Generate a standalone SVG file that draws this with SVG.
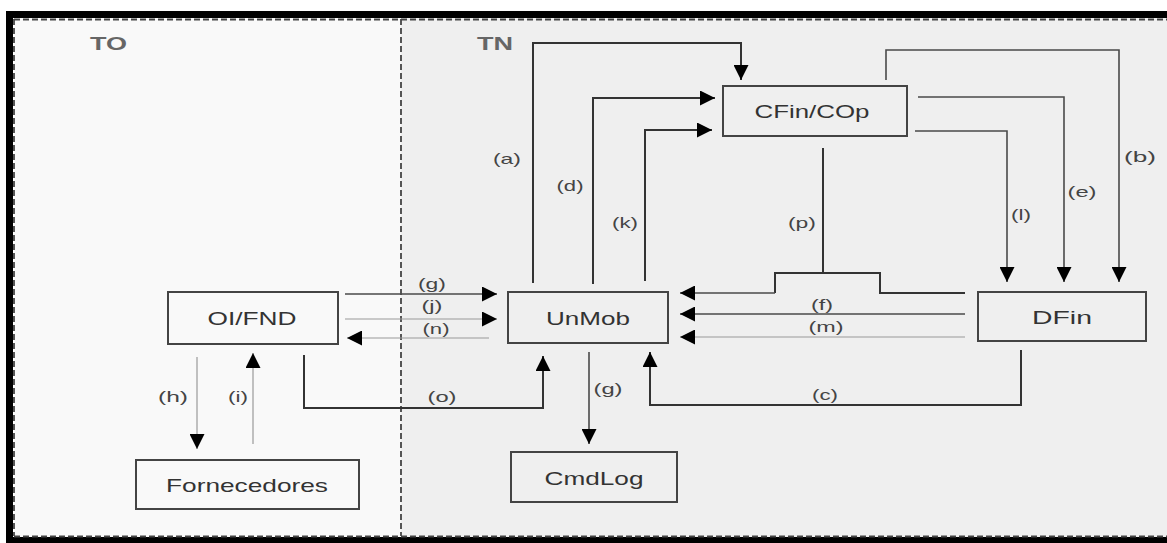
<svg xmlns="http://www.w3.org/2000/svg" width="1167" height="543" viewBox="0 0 1167 543">
  <style>
    .frame { fill: #000; }
    .zone-to { fill: #f9f9f9; }
    .zone-tn { fill: #efefef; }
    .dash { fill: none; stroke: #444; stroke-width: 1.8; stroke-dasharray: 6 3; }
    .zone-label { font-family: "Liberation Sans", Arial, sans-serif; font-weight: bold; font-size: 18px; fill: #666; }
    .box { fill: none; stroke: #444; stroke-width: 2; }
    .name { font-family: "Liberation Sans", Arial, sans-serif; font-size: 19px; fill: #333; text-anchor: middle; }
    .lbl { font-family: "Liberation Sans", Arial, sans-serif; font-size: 15px; fill: #444; text-anchor: middle; }
    .thick { fill: none; stroke: #333; stroke-width: 2; }
    .mid { fill: none; stroke: #4a4a4a; stroke-width: 1.6; }
    .thin { fill: none; stroke: #999; stroke-width: 1.2; }
  </style>
  <defs>
    <marker id="arrow" markerUnits="userSpaceOnUse" markerWidth="16" markerHeight="15" viewBox="0 0 16 15" refX="15" refY="7.5" orient="auto">
      <path d="M0,0 L15,7.5 L0,15 z" fill="#000"/>
    </marker>
  </defs>

  <!-- zones -->
  <g id="zones">
    <rect class="zone-to" x="14" y="18" width="387" height="519"/>
    <rect class="zone-tn" x="401" y="18" width="766" height="519"/>
    <path class="frame" d="M6,11 H1167 V18 H13 V537 H1167 V543 H6 Z"/>
    <path class="dash" d="M14,19.5 H1167 M14,19 V536 M14,536.5 H1167 M401,19 V536"/>
    <text class="zone-label" x="90" y="50" textLength="37" lengthAdjust="spacingAndGlyphs">TO</text>
    <text class="zone-label" x="477" y="50" textLength="36" lengthAdjust="spacingAndGlyphs">TN</text>
  </g>

  <!-- connectors -->
  <g id="connectors">
    <!-- (a) -->
    <path class="thick" d="M533,283 V43 H741 V80" marker-end="url(#arrow)"/>
    <!-- (d) -->
    <path class="thick" d="M593,284 V98 H715" marker-end="url(#arrow)"/>
    <!-- (k) -->
    <path class="thick" d="M645,281 V130 H712" marker-end="url(#arrow)"/>
    <!-- (b) -->
    <path class="mid" d="M886,80 V50 H1119 V282" marker-end="url(#arrow)"/>
    <!-- (e) -->
    <path class="mid" d="M918,97 H1064 V282" marker-end="url(#arrow)"/>
    <!-- (l) -->
    <path class="mid" d="M915,131 H1007 V282" marker-end="url(#arrow)"/>
    <!-- (p) -->
    <path class="thick" d="M823,148 V273"/>
    <path class="thick" d="M775,293 V273 H880 V293 H965"/>
    <path class="mid" d="M775,293 H680" marker-end="url(#arrow)"/>
    <!-- (f) -->
    <path class="mid" d="M965,314 H680" marker-end="url(#arrow)"/>
    <!-- (m) -->
    <path class="thin" d="M965,337 H680" marker-end="url(#arrow)"/>
    <!-- (g) -->
    <path class="mid" d="M345,294 H497" marker-end="url(#arrow)"/>
    <!-- (j) -->
    <path class="thin" d="M345,319 H497" marker-end="url(#arrow)"/>
    <!-- (n) -->
    <path class="thin" d="M489,338 H347" marker-end="url(#arrow)"/>
    <!-- (o) -->
    <path class="thick" d="M304,355 V408 H543 V356" marker-end="url(#arrow)"/>
    <!-- (g) to CmdLog -->
    <path class="mid" d="M589,352 V444" marker-end="url(#arrow)"/>
    <!-- (c) -->
    <path class="thick" d="M1021,350 V405 H650 V352" marker-end="url(#arrow)"/>
    <!-- (h) -->
    <path class="thin" d="M197,357 V449" marker-end="url(#arrow)"/>
    <!-- (i) -->
    <path class="thin" d="M253,444 V353" marker-end="url(#arrow)"/>

    <!-- labels -->
    <text class="lbl" x="507" y="164" textLength="28" lengthAdjust="spacingAndGlyphs">(a)</text>
    <text class="lbl" x="570" y="191" textLength="27" lengthAdjust="spacingAndGlyphs">(d)</text>
    <text class="lbl" x="625" y="228" textLength="26" lengthAdjust="spacingAndGlyphs">(k)</text>
    <text class="lbl" x="802" y="228" textLength="28" lengthAdjust="spacingAndGlyphs">(p)</text>
    <text class="lbl" x="1140" y="162" textLength="32" lengthAdjust="spacingAndGlyphs">(b)</text>
    <text class="lbl" x="1082" y="197" textLength="29" lengthAdjust="spacingAndGlyphs">(e)</text>
    <text class="lbl" x="1021" y="220" textLength="20" lengthAdjust="spacingAndGlyphs">(l)</text>
    <text class="lbl" x="432" y="289" textLength="28" lengthAdjust="spacingAndGlyphs">(g)</text>
    <text class="lbl" x="432" y="311" textLength="21" lengthAdjust="spacingAndGlyphs">(j)</text>
    <text class="lbl" x="436" y="334" textLength="27" lengthAdjust="spacingAndGlyphs">(n)</text>
    <text class="lbl" x="442" y="402" textLength="29" lengthAdjust="spacingAndGlyphs">(o)</text>
    <text class="lbl" x="608" y="394" textLength="29" lengthAdjust="spacingAndGlyphs">(g)</text>
    <text class="lbl" x="825" y="400" textLength="26" lengthAdjust="spacingAndGlyphs">(c)</text>
    <text class="lbl" x="822" y="310" textLength="22" lengthAdjust="spacingAndGlyphs">(f)</text>
    <text class="lbl" x="826" y="332" textLength="35" lengthAdjust="spacingAndGlyphs">(m)</text>
    <text class="lbl" x="173" y="402" textLength="30" lengthAdjust="spacingAndGlyphs">(h)</text>
    <text class="lbl" x="238" y="402" textLength="20" lengthAdjust="spacingAndGlyphs">(i)</text>
  </g>

  <!-- nodes -->
  <g id="node-cfin">
    <rect class="box" x="723" y="86" width="184" height="50"/>
    <text class="name" x="812" y="118" textLength="115" lengthAdjust="spacingAndGlyphs">CFin/COp</text>
  </g>
  <g id="node-oifnd">
    <rect class="box" x="168" y="292" width="170" height="52"/>
    <text class="name" x="252" y="325" textLength="89" lengthAdjust="spacingAndGlyphs">OI/FND</text>
  </g>
  <g id="node-fornecedores">
    <rect class="box" x="136" y="460" width="223" height="49"/>
    <text class="name" x="247" y="492" textLength="162" lengthAdjust="spacingAndGlyphs">Fornecedores</text>
  </g>
  <g id="node-unmob">
    <rect class="box" x="508" y="292" width="160" height="51"/>
    <text class="name" x="588" y="325" textLength="84" lengthAdjust="spacingAndGlyphs">UnMob</text>
  </g>
  <g id="node-cmdlog">
    <rect class="box" x="511" y="452" width="166" height="50"/>
    <text class="name" x="594" y="485" textLength="99" lengthAdjust="spacingAndGlyphs">CmdLog</text>
  </g>
  <g id="node-dfin">
    <rect class="box" x="978" y="292" width="168" height="49"/>
    <text class="name" x="1062" y="324" textLength="60" lengthAdjust="spacingAndGlyphs">DFin</text>
  </g>
</svg>
